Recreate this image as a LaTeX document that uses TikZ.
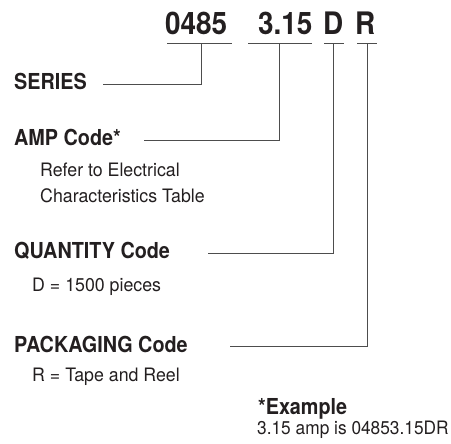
\documentclass[tikz,border=0pt]{standalone}
\usepackage{fontspec}
\setmainfont{TeX Gyre Heros}[FakeStretch=0.96]
\newfontfamily\labfont{TeX Gyre Heros}[FakeStretch=0.9]
\newfontfamily\exfont{TeX Gyre Heros}[FakeStretch=0.935]
\usepackage{tikz}
\definecolor{inkgray}{HTML}{231F20}
\definecolor{leadgray}{HTML}{4D4D4D}

\begin{document}
\begin{tikzpicture}[
  x=1pt, y=-1pt,
  every node/.style={text=inkgray, inner sep=0pt},
  codepart/.style={anchor=base west, font=\labfont\fontsize{31}{31}\selectfont\bfseries},
  fieldlab/.style={anchor=base west, font=\labfont\fontsize{22}{22}\selectfont\bfseries},
  note/.style={anchor=base west, align=left, font=\fontsize{18.5}{26}\selectfont},
  bar/.style={draw=leadgray, line width=1pt},
  leader/.style={draw=leadgray, line width=1pt}
]
\useasboundingbox (0,0) rectangle (451,444);

% part number
\node[codepart] (cser) at (165,35) {0485};
\node[codepart] (camp) at (258,35) {3.15};
\node[codepart] (cqty) at (323,35) {D};
\node[codepart] (cpack) at (355,35) {R};

\coordinate (serbar) at (201.7,44);
\coordinate (ampbar) at (279.3,44);
\coordinate (qtybar) at (333.5,44);
\coordinate (packbar) at (367,44);
\draw[bar] (167,44) -- (232,44);
\draw[bar] (248,44) -- (312,44);
\draw[bar] (324,44) -- (344,44);
\draw[bar] (357,44) -- (377,44);

% fields
\node[fieldlab] (series) at (14,90) {SERIES};
\node[fieldlab] (amp) at (14,146) {AMP Code*};
\node[note] (ampnote) at (40,202.7) {Refer to Electrical\\Characteristics Table};
\node[fieldlab] (qty) at (14,258.3) {QUANTITY Code};
\node[note] (qtynote) at (32,291.7) {D = 1500 pieces};
\node[fieldlab] (pack) at (14,352.7) {PACKAGING Code};
\node[note] (packnote) at (32,381.7) {R = Tape and Reel};

\coordinate (serend) at (103,84.3);
\coordinate (ampend) at (144,140.7);
\coordinate (qtyend) at (208,254);
\coordinate (packend) at (230,347);

\draw[leader] (serend) -| (serbar);
\draw[leader] (ampend) -| (ampbar);
\draw[leader] (qtyend) -| (qtybar);
\draw[leader] (packend) -| (packbar);

% example
\node[fieldlab] (exhead) at (258,414) {*Example};
\node[note, font=\exfont\fontsize{18.5}{26}\selectfont] (extext) at (257,435) {3.15 amp is 04853.15DR};
\end{tikzpicture}
\end{document}
